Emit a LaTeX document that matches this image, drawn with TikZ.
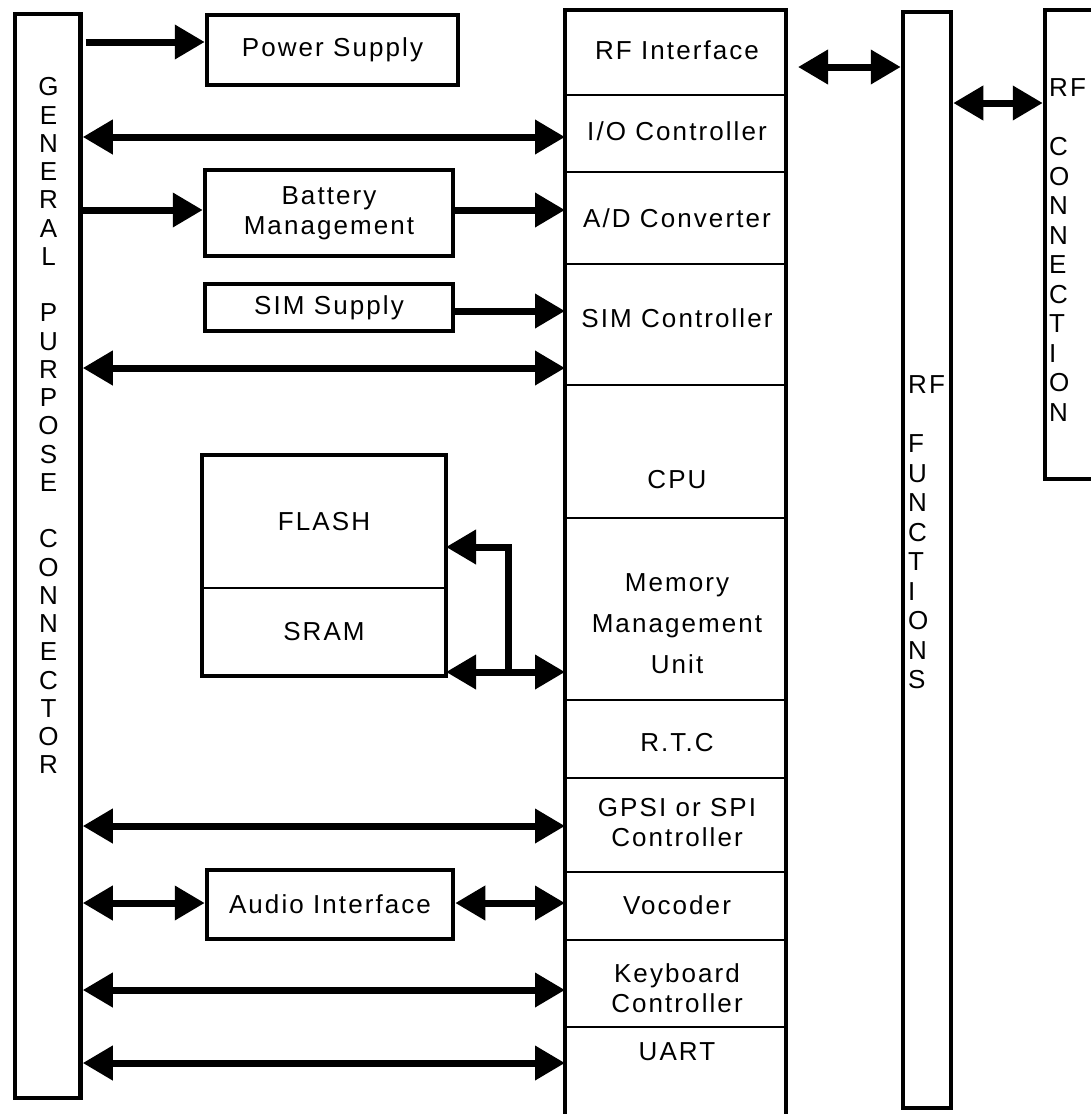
\documentclass[tikz,border=0pt]{standalone}
\usepackage{fontspec}
\setmainfont{Liberation Sans}[LetterSpace=8]
\usetikzlibrary{positioning,arrows.meta}

\tikzset{
  blk/.style={draw, line width=4.5pt, inner sep=0pt, align=center},
  memcell/.style={draw, line width=1.5pt, inner sep=0pt, outer sep=0pt, minimum width=244pt},
  cellline/.style={line width=1.5pt},
  lbl/.style={inner sep=0pt, align=center},
  bus/.style={line width=7pt, -{Triangle[length=30pt,width=33pt]}},
  dbus/.style={line width=7pt, {Triangle[length=30pt,width=33pt]}-{Triangle[length=30pt,width=33pt]}},
}

\begin{document}
\begin{tikzpicture}[x=1pt, y=-1pt, font=\fontsize{26}{30}\selectfont]
	\useasboundingbox (0,0) rectangle (1091,1114);

	% general purpose connector
	\node[blk, minimum width=65.5pt, minimum height=1084pt] (gpc) at (47.75,556) {};
	\foreach \ch [count=\i from 0] in {G,E,N,E,R,A,L,,P,U,R,P,O,S,E,,C,O,N,N,E,C,T,O,R}
		\node[lbl] (gpc-\i) at (48.5,87+28.25*\i) {\ch};

	% blocks beside the connector
	\node[blk, minimum width=251pt, minimum height=70pt] (pwr) at (332.5,50) {Power Supply};
	\node[blk, minimum width=248pt, minimum height=86pt] (bat) at (329,213) {Battery\\Management};
	\node[blk, minimum width=248pt, minimum height=47pt] (sims) at (329,307.5) {SIM Supply};
	\node[memcell, minimum height=133pt] (flash) at (324,521.5) {FLASH};
	\node[memcell, minimum height=88pt, below=0pt of flash] (sram) {SRAM};
	\draw[line width=4.5pt] (flash.north west) rectangle (sram.south east);
	\node[blk, minimum width=246pt, minimum height=69pt] (aud) at (330,904.5) {Audio Interface};

	% baseband column
	\node[inner sep=0pt, outer sep=0pt, minimum width=221pt, minimum height=1112pt, anchor=north] (soc) at (675.5,10) {};
	\draw[line width=4.5pt] (soc.south west) -- (soc.north west) -- (soc.north east) -- (soc.south east);
	\foreach \y in {95,172,264,385,518,700,778,872,940,1027}
		\draw[cellline] (soc.west |- 0,\y) -- (soc.east |- 0,\y);
	\node[lbl] (rfi) at (677,50) {RF Interface};
	\node[lbl] (io) at (677,131) {I/O Controller};
	\node[lbl] (adc) at (677,218) {A/D Converter};
	\node[lbl] (simc) at (677,318) {SIM Controller};
	\node[lbl] (cpu) at (677,480) {CPU};
	\node[lbl] (mmu) at (677,624) {Memory\\[11pt]Management\\[11pt]Unit};
	\node[lbl] (rtc) at (677,743) {R.T.C};
	\node[lbl] (gpsi) at (677,823) {GPSI or SPI\\Controller};
	\node[lbl] (voc) at (677,905) {Vocoder};
	\node[lbl] (kbd) at (677,988) {Keyboard\\Controller};
	\node[lbl] (uart) at (677,1052) {UART};

	% rf side
	\node[blk, minimum width=48pt, minimum height=1096pt] (rff) at (927,560) {};
	\foreach \ch [count=\i from 0] in {RF,,F,U,N,C,T,I,O,N,S}
		\node[lbl, anchor=west] (rff-\i) at (908,385+29.5*\i) {\ch};
	\node[blk, minimum width=80pt, minimum height=469pt] (rfc) at (1085,244.5) {};
	\foreach \ch [count=\i from 0] in {RF,,C,O,N,N,E,C,T,I,O,N}
		\node[lbl, anchor=west] (rfc-\i) at (1049,88+29.5*\i) {\ch};

	% buses
	\coordinate (pwrport) at (0,42);
	\coordinate (ioport) at (0,137);
	\coordinate (batport) at (0,210);
	\coordinate (simport) at (0,311);
	\coordinate (gpioport) at (0,368);
	\coordinate (memport) at (508,672);
	\coordinate (flashport) at (508,547);
	\coordinate (spiport) at (0,826);
	\coordinate (audport) at (0,903);
	\coordinate (kbdport) at (0,990);
	\coordinate (uartport) at (0,1063);
	\coordinate (rfport) at (798,67);
	\coordinate (antport) at (0,103);

	\draw[bus] ([xshift=3pt]pwrport -| gpc.east) -- (pwrport -| pwr.west);
	\draw[dbus] (ioport -| gpc.east) -- (ioport -| soc.west);
	\draw[bus] (batport -| gpc.east) -- (batport -| bat.west);
	\draw[bus] (batport -| bat.east) -- (batport -| soc.west);
	\draw[bus] (simport -| sims.east) -- (simport -| soc.west);
	\draw[dbus] (gpioport -| gpc.east) -- (gpioport -| soc.west);
	\draw[dbus] (memport -| sram.east) -- (memport -| soc.west);
	\draw[bus] (memport) -- (flashport) -- (flashport -| flash.east);
	\draw[dbus] (spiport -| gpc.east) -- (spiport -| soc.west);
	\draw[dbus] (audport -| gpc.east) -- (audport -| aud.west);
	\draw[dbus] (audport -| aud.east) -- (audport -| soc.west);
	\draw[dbus] (kbdport -| gpc.east) -- (kbdport -| soc.west);
	\draw[dbus] (uartport -| gpc.east) -- (uartport -| soc.west);
	\draw[dbus] (rfport) -- (rfport -| rff.west);
	\draw[dbus] (antport -| rff.east) -- (antport -| rfc.west);
\end{tikzpicture}
\end{document}
